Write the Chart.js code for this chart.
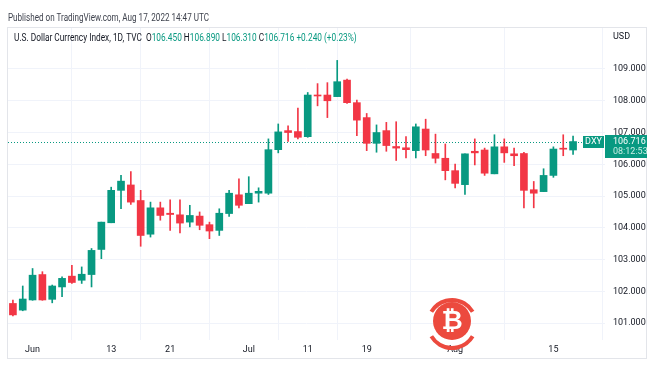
<!DOCTYPE html>
<html>
<head>
<meta charset="utf-8">
<script src="https://cdn.jsdelivr.net/npm/chart.js@4/dist/chart.umd.min.js"></script>
<style>
  html, body { margin: 0; padding: 0; background: #fff; }
  #wrap { position: relative; width: 647px; height: 366px; overflow: hidden; }
  canvas { position: absolute; left: 0; top: 0; }
  .txt { position: absolute; white-space: nowrap; font-family: Roboto, sans-serif; transform-origin: left center; }
  #published { left: 8px; top: 12px; font-size: 10px; color: #3f434e; transform: scaleX(0.81); }
  #legend { left: 14px; top: 32px; font-size: 10px; color: #131722; transform: scaleX(0.83); }
  #legend .v { color: #089981; }
</style>
</head>
<body>
<div id="wrap">
  <canvas id="dxyChart" width="647" height="366"></canvas>
  <div id="published" class="txt">Published on TradingView.com, Aug 17, 2022 14:47 UTC</div>
  <div id="legend" class="txt"></div>
</div>
<script>
const dates = [
  'May 30', 'May 31',
  'Jun 1', 'Jun 2', 'Jun 3', 'Jun 6', 'Jun 7', 'Jun 8', 'Jun 9', 'Jun 10', 'Jun 13', 'Jun 14', 'Jun 15',
  'Jun 16', 'Jun 17', 'Jun 20', 'Jun 21', 'Jun 22', 'Jun 23', 'Jun 24', 'Jun 27', 'Jun 28', 'Jun 29', 'Jun 30',
  'Jul 1', 'Jul 4', 'Jul 5', 'Jul 6', 'Jul 7', 'Jul 8', 'Jul 11', 'Jul 12', 'Jul 13', 'Jul 14', 'Jul 15',
  'Jul 18', 'Jul 19', 'Jul 20', 'Jul 21', 'Jul 22', 'Jul 25', 'Jul 26', 'Jul 27', 'Jul 28', 'Jul 29',
  'Aug 1', 'Aug 2', 'Aug 3', 'Aug 4', 'Aug 5', 'Aug 8', 'Aug 9', 'Aug 10', 'Aug 11', 'Aug 12', 'Aug 15', 'Aug 16', 'Aug 17',
];
const open = [
  101.62, 101.41, 101.73, 102.53, 101.75, 102.14, 102.48, 102.35, 102.53, 103.32, 104.16, 105.18, 105.35,
  104.86, 103.80, 104.63, 104.46, 104.41, 104.18, 104.37, 104.10, 103.92, 104.45, 105.04,
  104.76, 105.09, 105.09, 106.46, 107.06, 107.03, 106.87, 108.18, 108.18, 108.13, 108.65,
  107.94, 107.47, 106.66, 107.06, 106.56, 106.52, 106.43, 107.11, 106.34, 106.19,
  105.80, 105.36, 106.41, 106.45, 105.70, 106.55, 106.33, 106.34, 105.20, 105.14, 105.65, 106.48, 106.45,
];
const high = [
  101.73, 102.17, 102.72, 102.62, 102.20, 102.46, 102.82, 102.77, 103.35, 104.18, 105.28, 105.65, 105.77,
  105.18, 104.81, 104.81, 104.88, 104.88, 104.71, 104.50, 104.18, 104.60, 105.18, 105.54,
  105.61, 105.26, 106.80, 107.27, 107.21, 107.77, 108.26, 108.54, 108.57, 109.27, 108.68,
  108.02, 107.60, 107.24, 107.32, 107.34, 106.87, 107.27, 107.42, 106.95, 106.64,
  106.01, 106.33, 106.80, 106.51, 106.93, 106.80, 106.51, 106.38, 105.46, 105.86, 106.55, 106.93, 106.89,
];
const low = [
  101.23, 101.39, 101.72, 101.72, 101.64, 101.83, 102.25, 102.25, 102.14, 103.03, 104.16, 104.60, 104.74,
  103.42, 103.71, 104.24, 103.92, 103.84, 104.03, 103.94, 103.66, 103.76, 104.36, 104.63,
  104.76, 104.81, 105.05, 106.36, 106.72, 106.80, 106.85, 107.84, 107.47, 108.13, 107.92,
  106.90, 106.43, 106.38, 106.41, 106.12, 106.20, 106.20, 106.27, 106.04, 105.51,
  105.26, 105.05, 105.98, 105.65, 105.70, 106.06, 105.96, 104.63, 104.63, 105.14, 105.59, 106.27, 106.31,
];
const close = [
  101.26, 101.76, 102.51, 101.73, 102.17, 102.41, 102.28, 102.54, 103.29, 104.18, 105.18, 105.47, 104.81,
  103.76, 104.63, 104.39, 104.42, 104.15, 104.39, 104.08, 103.90, 104.46, 105.09, 104.71,
  105.09, 105.15, 106.46, 107.02, 107.00, 106.85, 108.18, 108.15, 108.00, 108.60, 107.94,
  107.39, 106.66, 107.00, 106.59, 106.51, 106.46, 107.18, 106.45, 106.19, 105.80,
  105.40, 106.33, 106.36, 105.72, 106.55, 106.36, 106.27, 105.18, 105.09, 105.65, 106.48, 106.476, 106.716,
];
const tickDates = ['Jun 1', 'Jun 13', 'Jun 21', 'Jul 1', 'Jul 11', 'Jul 19', 'Aug 1', 'Aug 15'];
const tickLabels = ['Jun', '13', '21', 'Jul', '11', '19', 'Aug', '15'];
const priceTicks = [101, 102, 103, 104, 105, 106, 107, 108, 109];

const UP = '#089981';
const DOWN = '#f23645';
const TEXT = '#131722';
const GRID = '#f0f3fa';

const last = close.length - 1;
const candleColors = close.map((c, i) => (c >= open[i] ? UP : DOWN));
const tickIndex = tickDates.map((d) => dates.indexOf(d));

// legend line built from last candle
const chg = close[last] - close[last - 1];
const pct = (chg / close[last - 1]) * 100;
const sign = chg >= 0 ? '+' : '';
document.getElementById('legend').innerHTML =
  'U.S. Dollar Currency Index, 1D, TVC&nbsp; ' +
  `O<span class="v">${open[last].toFixed(3)}</span> ` +
  `H<span class="v">${high[last].toFixed(3)}</span> ` +
  `L<span class="v">${low[last].toFixed(3)}</span> ` +
  `C<span class="v">${close[last].toFixed(3)}</span> ` +
  `<span class="v">${sign}${chg.toFixed(3)} (${sign}${pct.toFixed(2)}%)</span>`;

const priceLine = {
  id: 'priceLine',
  beforeDatasetsDraw(chart) {
    const { ctx, chartArea: a, scales: { y } } = chart;
    const py = Math.round(y.getPixelForValue(close[last])) + 0.5;
    ctx.save();
    ctx.strokeStyle = UP;
    ctx.lineWidth = 1;
    ctx.setLineDash([1, 2]);
    ctx.beginPath();
    ctx.moveTo(a.left, py);
    ctx.lineTo(a.right, py);
    ctx.stroke();
    ctx.restore();
  },
  afterDraw(chart) {
    const { ctx, chartArea: a, scales: { y } } = chart;
    const py = Math.round(y.getPixelForValue(close[last]));
    ctx.save();

    // outer frame
    ctx.strokeStyle = '#e3e5ea';
    ctx.lineWidth = 1;
    ctx.strokeRect(a.left - 0.5, a.top - 0.5, chart.width - a.left, 358 - a.top + 1);

    // DXY tag and price label
    ctx.fillStyle = UP;
    ctx.fillRect(583, py - 6, 21, 12);
    ctx.fillRect(a.right, py - 7, chart.width - a.right, 23);
    ctx.font = '9px Roboto, sans-serif';
    ctx.textBaseline = 'middle';
    ctx.textAlign = 'center';
    ctx.fillStyle = '#ffffff';
    ctx.fillText('DXY', 593.5, py);
    ctx.textAlign = 'left';
    ctx.fillText(close[last].toFixed(3), a.right + 8, py);
    ctx.fillStyle = '#c9eee4';
    ctx.fillText('08:12:53', a.right + 8, py + 10);

    // currency label
    ctx.fillStyle = TEXT;
    ctx.fillText('USD', a.right + 8, 37);

    // watermark logo
    const cx = 452, cy = 324;
    ctx.strokeStyle = '#ec4a3e';
    ctx.lineWidth = 4;
    ctx.beginPath();
    ctx.arc(cx, cy, 24, Math.PI * 1.17, Math.PI * 1.83);
    ctx.stroke();
    ctx.beginPath();
    ctx.arc(cx, cy, 24, Math.PI * 0.17, Math.PI * 0.83);
    ctx.stroke();
    ctx.fillStyle = '#ec4a3e';
    ctx.beginPath();
    ctx.arc(cx, cy - 3, 19, 0, Math.PI * 2);
    ctx.fill();
    ctx.fillStyle = '#ffffff';
    ctx.font = 'bold 26px "DejaVu Sans", sans-serif';
    ctx.textAlign = 'center';
    ctx.fillText('\u20bf', cx, cy - 2);
    ctx.restore();
  },
};

new Chart(document.getElementById('dxyChart').getContext('2d'), {
  type: 'bar',
  data: {
    datasets: [
      {
        label: 'wick',
        data: dates.map((d, i) => ({ x: i, y: [low[i], high[i]] })),
        backgroundColor: candleColors,
        barThickness: 1,
        grouped: false,
        order: 2,
      },
      {
        label: 'body',
        data: dates.map((d, i) => ({ x: i, y: [open[i], close[i]] })),
        backgroundColor: candleColors,
        barThickness: 7,
        minBarLength: 1,
        grouped: false,
        order: 1,
      },
    ],
  },
  options: {
    responsive: false,
    animation: false,
    layout: { padding: { left: 8, top: 28, right: 0, bottom: 8 } },
    plugins: { legend: { display: false }, tooltip: { enabled: false } },
    scales: {
      x: {
        type: 'linear',
        min: -0.5,
        max: 60.25,
        offset: false,
        afterBuildTicks: (scale) => { scale.ticks = tickIndex.map((v) => ({ value: v })); },
        afterFit: (scale) => { scale.height = 18; },
        ticks: {
          color: TEXT,
          font: { family: 'Roboto, sans-serif', size: 9 },
          padding: 4,
          maxRotation: 0,
          autoSkip: false,
          callback: (v) => tickLabels[tickIndex.indexOf(v)],
        },
        grid: { color: GRID, drawTicks: false },
        border: { display: false },
      },
      y: {
        position: 'right',
        min: 100.47,
        max: 110.29,
        afterBuildTicks: (scale) => { scale.ticks = priceTicks.map((v) => ({ value: v })); },
        afterFit: (scale) => { scale.width = 42; },
        ticks: {
          color: TEXT,
          font: { family: 'Roboto, sans-serif', size: 9 },
          padding: 8,
          callback: (v) => v.toFixed(3),
        },
        grid: { color: GRID, drawTicks: false },
        border: { display: false },
      },
    },
  },
  plugins: [priceLine],
});
</script>
</body>
</html>
